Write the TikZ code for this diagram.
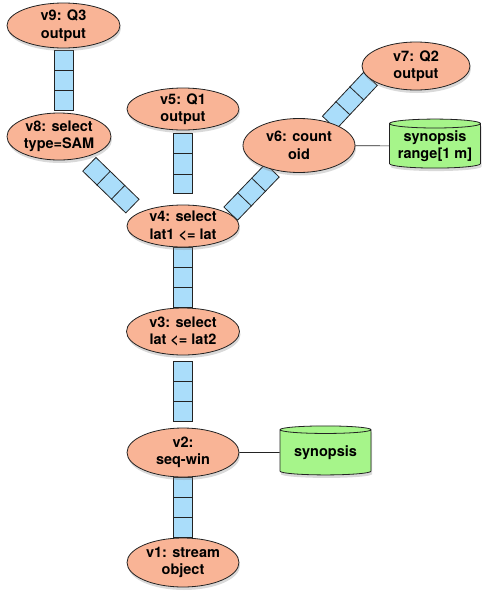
\documentclass[tikz,border=0pt]{standalone}
\usepackage{fontspec}
\setmainfont{TeX Gyre Heros}
\usetikzlibrary{shapes.geometric,shadows,calc}
\pgfdeclarelayer{background}
\pgfsetlayers{background,main}
\definecolor{opfill}{RGB}{249,180,150}
\definecolor{qfill}{RGB}{170,221,250}
\definecolor{synfill}{RGB}{166,245,138}
\definecolor{edgecol}{RGB}{35,35,35}
\begin{document}
\begin{tikzpicture}[x=1pt,y=-1pt,
    font=\fontsize{14.5}{17.5}\selectfont\bfseries,
    op/.style={ellipse,draw=edgecol,fill=opfill,line width=0.8pt,inner sep=-10pt,align=center,
        minimum width=112pt,minimum height=46pt,
        drop shadow={shadow xshift=1pt,shadow yshift=-3pt,opacity=0.3}},
    syn/.style={cylinder,shape border rotate=90,aspect=0.12,draw=edgecol,fill=synfill,line width=0.8pt,
        align=center,inner sep=0pt,minimum width=91pt,minimum height=49pt,
        drop shadow={shadow xshift=1pt,shadow yshift=-3pt,opacity=0.3}},
    queue/.style={draw=edgecol,fill=qfill,line width=0.8pt,minimum width=60pt,minimum height=19pt,
        inner sep=0pt,sloped},
    link/.style={draw=edgecol,line width=0.6pt}]
  \useasboundingbox (0,0) rectangle (482,595);
  % operators
  \node[op,minimum width=113pt,minimum height=45pt] (v9) at (63.5,25.5) {v9: Q3\\output};
  \node[op,minimum width=104pt,minimum height=47pt] (v8) at (59,136.5) {v8: select\\type=SAM};
  \node[op,minimum height=42pt] (v5) at (183,109) {v5: Q1\\output};
  \node[op,minimum height=42pt] (v4) at (183,226) {v4: select\\lat1 <= lat};
  \node[op,minimum height=54pt] (v6) at (299,145.5) {v6: count\\oid};
  \node[op,minimum width=108pt,minimum height=48pt] (v7) at (416,66) {v7: Q2\\output};
  \node[op,minimum width=113pt,minimum height=47pt] (v3) at (183,331.5) {v3: select\\lat <= lat2};
  \node[op,minimum height=49pt] (v2) at (183,452.5) {v2:\\seq-win};
  \node[op,minimum height=49pt] (v1) at (183,562.5) {v1: stream\\object};
  % synopses
  \node[syn] (s6) at (435,146) {synopsis\\range[1 m]};
  \node[syn] (s2) at (325.5,452.5) {synopsis};
  \draw[link] (v6) -- (s6);
  \draw[link] (v2) -- (s2);
  % queues between operators
  \begin{pgfonlayer}{background}
    \path (v9.south) -- node[queue] (q98) {} (v9.south |- v8.north);
    \path (v5.south) -- node[queue,pos=0.45] (q54) {} (v4.north);
    \path (v4.south) -- node[queue] (q43) {} (v3.north);
    \path (v3.south) -- node[queue] (q32) {} (v2.north);
    \path (v2.south) -- node[queue] (q21) {} (v1.north);
    \path (v8.-42) -- node[queue] (q84) {} (v4.163);
    \path (v4.14) -- node[queue] (q46) {} (v6.-137);
    \path (v6.37) -- node[queue] (q67) {} (v7.196);
    % cells of each queue
    \foreach \q in {q98,q54,q43,q32,q21,q84,q46,q67}
      \foreach \t in {0.333,0.667}
        \draw[edgecol,line width=0.8pt] ($(\q.north west)!\t!(\q.north east)$) -- ($(\q.south west)!\t!(\q.south east)$);
  \end{pgfonlayer}
\end{tikzpicture}
\end{document}
